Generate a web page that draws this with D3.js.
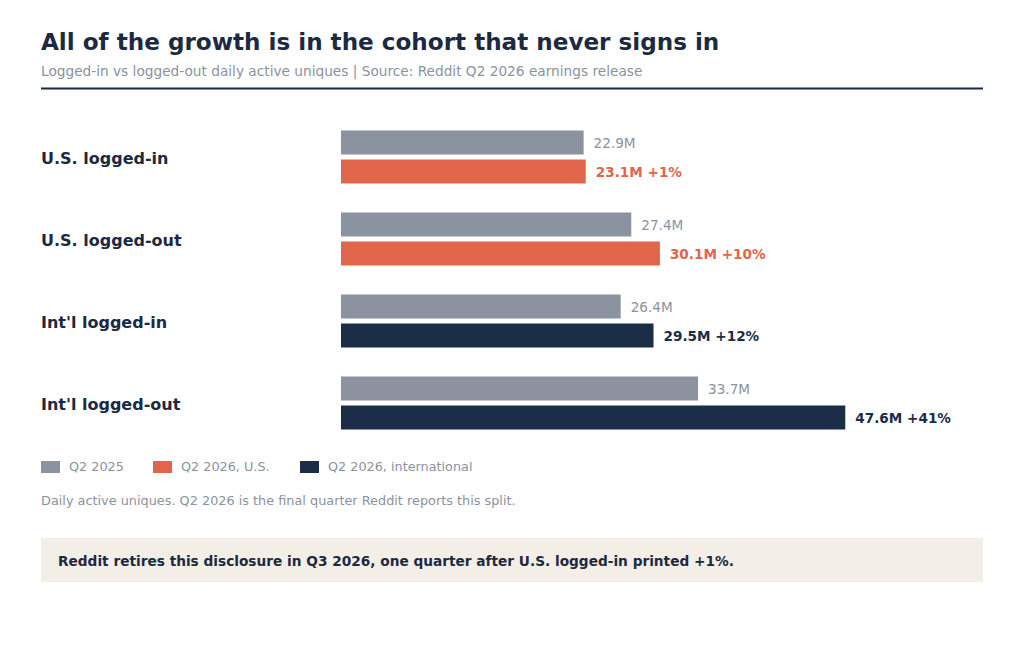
<html>
<head>
<script src="https://cdn.jsdelivr.net/npm/d3@7"></script>
<style>
    body { margin:0; background:white; font-family:"DejaVu Sans", sans-serif; }
</style>
</head>
<body>
<svg id="chart"></svg>
<script>

let categories = ["U.S. logged-in", "U.S. logged-out", "Int'l logged-in", "Int'l logged-out"]
let q2_2025 = [22.9, 27.4, 26.4, 33.7]
let q2_2026 = [23.1, 30.1, 29.5, 47.6]
let growth = ["+1%", "+10%", "+12%", "+41%"]
let region = ["us", "us", "intl", "intl"]
let legendLabels = ["Q2 2025", "Q2 2026, U.S.", "Q2 2026, international"]

let colors = { base: "#8a939f", us: "#e0654a", intl: "#1b2d47", ink: "#1b2a41", muted: "#8a939f" }

let width = 1024
let height = 649

let svg = d3.select("#chart")
    .attr("width", width)
    .attr("height", height)

// header
svg.append("text")
    .attr("x", 41).attr("y", 50)
    .attr("font-size", 23.1).attr("font-weight", "bold")
    .attr("fill", colors.ink)
    .text("All of the growth is in the cohort that never signs in")

svg.append("text")
    .attr("x", 41).attr("y", 76)
    .attr("font-size", 13.7)
    .attr("fill", colors.muted)
    .text("Logged-in vs logged-out daily active uniques | Source: Reddit Q2 2026 earnings release")

svg.append("line")
    .attr("x1", 41).attr("x2", 983)
    .attr("y1", 88.5).attr("y2", 88.5)
    .attr("stroke", colors.ink).attr("stroke-width", 2)

// scales
let xScale = d3.scaleLinear()
    .domain([0, 60.6])
    .range([341, 983])

let yScale = d3.scaleBand()
    .domain(categories)
    .range([116, 444])

let barH = 24
let gap = 5

let rows = categories.map((c, i) => ({
    name: c, before: q2_2025[i], after: q2_2026[i], growth: growth[i], region: region[i]
}))

let groups = svg.selectAll(".row")
    .data(rows)
    .enter()
    .append("g")
    .attr("transform", d => `translate(0,${yScale(d.name) + yScale.bandwidth() / 2})`)

groups.append("text")
    .attr("x", 41).attr("y", 1)
    .attr("dy", "0.35em")
    .attr("font-size", 16).attr("font-weight", "bold")
    .attr("fill", colors.ink)
    .text(d => d.name)

groups.append("rect")
    .attr("x", xScale(0))
    .attr("y", -barH - gap / 2)
    .attr("height", barH)
    .attr("width", d => xScale(d.before) - xScale(0))
    .attr("fill", colors.base)

groups.append("rect")
    .attr("x", xScale(0))
    .attr("y", gap / 2)
    .attr("height", barH)
    .attr("width", d => xScale(d.after) - xScale(0))
    .attr("fill", d => colors[d.region])

groups.append("text")
    .attr("x", d => xScale(d.before) + 10)
    .attr("y", -barH / 2 - gap / 2 + 1)
    .attr("dy", "0.35em")
    .attr("font-size", 13.6)
    .attr("fill", colors.muted)
    .text(d => d.before.toFixed(1) + "M")

groups.append("text")
    .attr("x", d => xScale(d.after) + 10)
    .attr("y", barH / 2 + gap / 2 + 1)
    .attr("dy", "0.35em")
    .attr("font-size", 13.6).attr("font-weight", "bold")
    .attr("fill", d => colors[d.region])
    .text(d => d.after.toFixed(1) + "M " + d.growth)

// legend
let legendX = [41, 153, 300]
let legendColors = [colors.base, colors.us, colors.intl]
let legend = svg.selectAll(".legend")
    .data(legendLabels)
    .enter()
    .append("g")
    .attr("transform", (d, i) => `translate(${legendX[i]},467)`)

legend.append("rect")
    .attr("x", 0).attr("y", -6)
    .attr("width", 19).attr("height", 12)
    .attr("fill", (d, i) => legendColors[i])

legend.append("text")
    .attr("x", 28).attr("y", 0)
    .attr("dy", "0.35em")
    .attr("font-size", 12.8)
    .attr("fill", colors.muted)
    .text(d => d)

svg.append("text")
    .attr("x", 41).attr("y", 505)
    .attr("font-size", 12.85)
    .attr("fill", colors.muted)
    .text("Daily active uniques. Q2 2026 is the final quarter Reddit reports this split.")

// callout
svg.append("rect")
    .attr("x", 41).attr("y", 538)
    .attr("width", 942).attr("height", 44)
    .attr("fill", "#f3efe7")

svg.append("text")
    .attr("x", 58).attr("y", 561)
    .attr("dy", "0.35em")
    .attr("font-size", 13.7).attr("font-weight", "bold")
    .attr("fill", colors.ink)
    .text("Reddit retires this disclosure in Q3 2026, one quarter after U.S. logged-in printed +1%.")

</script>
</body>
</html>
